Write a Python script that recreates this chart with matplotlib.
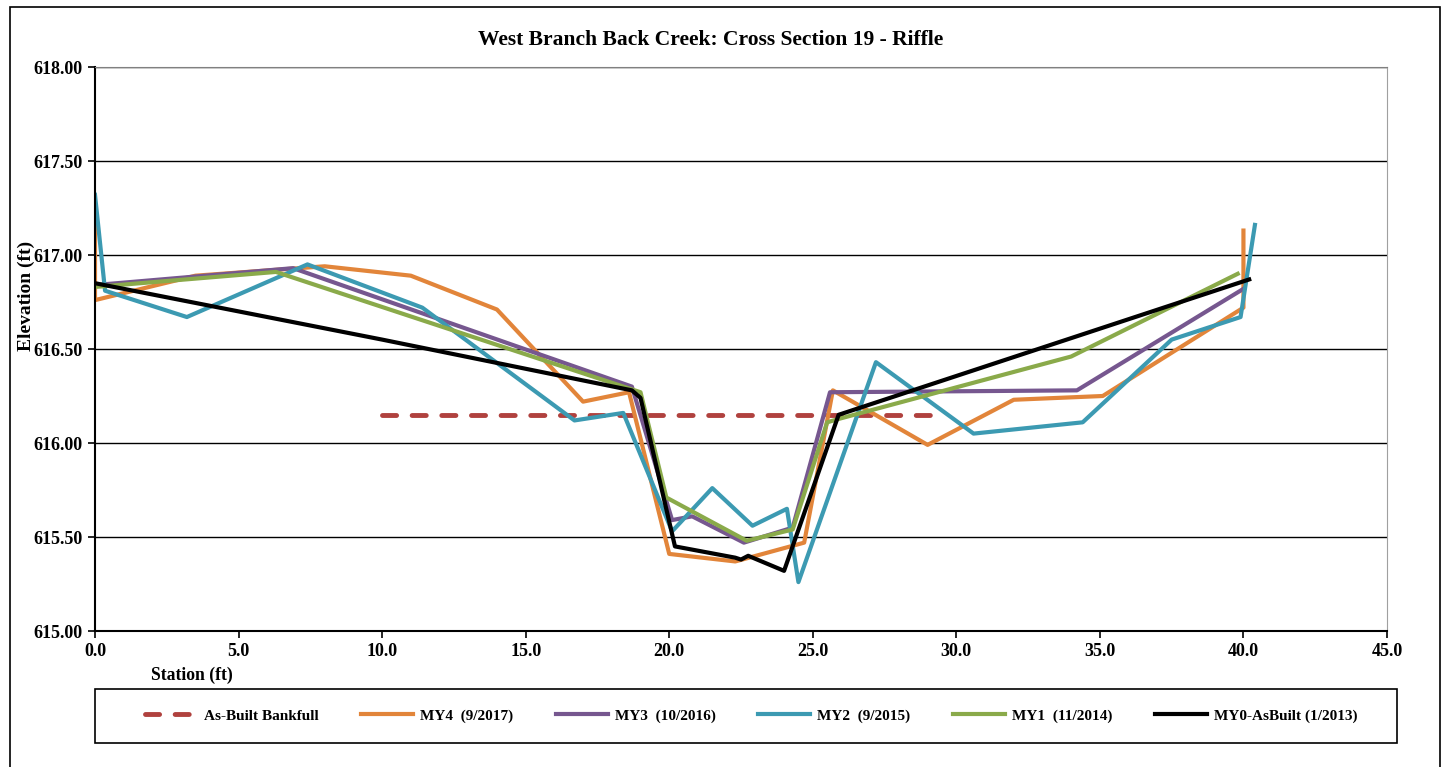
import matplotlib.pyplot as plt
from matplotlib.patches import Rectangle

plt.rcParams['font.family'] = ['Liberation Serif', 'DejaVu Serif']
plt.rcParams['font.weight'] = 'bold'

# Bankfull line
bkf_x = [10.0, 29.6]
bkf_y = [616.15, 616.15]

# MY4 (9/2017)
my4_x = [0.0, 0.0, 3.5, 8.0, 11.0, 14.0, 17.0, 18.6, 20.0, 22.3, 24.7, 25.7, 29.0, 32.0, 35.1, 40.0, 40.0]
my4_y = [617.25, 616.76, 616.89, 616.94, 616.89, 616.71, 616.22, 616.27, 615.41, 615.37, 615.47, 616.28,
         615.99, 616.23, 616.25, 616.72, 617.13]

# MY3 (10/2016)
my3_x = [0.0, 6.9, 18.7, 20.1, 20.8, 22.6, 24.3, 25.6, 34.2, 40.0]
my3_y = [616.84, 616.93, 616.30, 615.59, 615.61, 615.47, 615.55, 616.27, 616.28, 616.82]

# MY2 (9/2015)
my2_x = [0.0, 0.35, 3.2, 7.4, 11.4, 16.7, 18.4, 20.1, 21.5, 22.9, 24.1, 24.5, 27.2, 30.6, 34.4, 37.5, 39.9, 40.4]
my2_y = [617.32, 616.81, 616.67, 616.95, 616.72, 616.12, 616.16, 615.53, 615.76, 615.56, 615.65, 615.26,
         616.43, 616.05, 616.11, 616.55, 616.67, 617.16]

# MY1 (11/2014)
my1_x = [0.0, 6.3, 19.0, 19.9, 22.7, 24.3, 25.5, 25.95, 34.0, 39.8]
my1_y = [616.83, 616.91, 616.27, 615.71, 615.48, 615.54, 616.11, 616.13, 616.46, 616.90]

# MY0 as-built (1/2013)
my0_x = [0.0, 10.0, 18.7, 19.0, 20.2, 22.3, 22.5, 22.75, 24.0, 25.9, 40.2]
my0_y = [616.85, 616.55, 616.28, 616.24, 615.45, 615.39, 615.38, 615.40, 615.32, 616.15, 616.87]

W, H = 1444, 767
fig = plt.figure(figsize=(W / 100, H / 100), dpi=100)
ax = fig.add_axes([95 / W, 1 - 631 / H, (1387 - 95) / W, (631 - 67) / H])

# outer chart frame and legend box
fig.patches.append(Rectangle((10 / W, -0.05), (1440 - 10) / W, 1.05 - 7 / H,
                             transform=fig.transFigure, fill=False, edgecolor='black', lw=1.2))
fig.patches.append(Rectangle((95 / W, 1 - 743 / H), (1397 - 95) / W, (743 - 689) / H,
                             transform=fig.transFigure, fill=False, edgecolor='black', lw=1.2))

ax.plot(bkf_x, bkf_y, color='#b0413e', lw=3.5, dashes=(2.9, 3.2), dash_capstyle='round',
        label='As-Built Bankfull')
ax.plot(my4_x, my4_y, color='#e2853a', lw=3, label='MY4  (9/2017)')
ax.plot(my3_x, my3_y, color='#76578f', lw=3, label='MY3  (10/2016)')
ax.plot(my2_x, my2_y, color='#3c9ab2', lw=3, label='MY2  (9/2015)')
ax.plot(my1_x, my1_y, color='#8aaa4a', lw=3, label='MY1  (11/2014)')
ax.plot(my0_x, my0_y, color='black', lw=3, label='MY0-AsBuilt (1/2013)')

ax.set_xlim(0, 45)
ax.set_ylim(615, 618)
ax.set_xticks([i * 5.0 for i in range(10)])
ax.set_xticklabels([f'{i * 5.0:.1f}' for i in range(10)])
ax.set_yticks([615 + i * 0.5 for i in range(7)])
ax.set_yticklabels([f'{615 + i * 0.5:.2f}' for i in range(7)])
ax.tick_params(direction='out', length=5, width=1.2, labelsize=13, pad=4)
for lbl in ax.get_xticklabels() + ax.get_yticklabels():
    lbl.set_fontweight('bold')

ax.grid(axis='y', color='black', lw=1)
ax.set_axisbelow(True)
ax.spines['top'].set_color('#808080')
ax.spines['right'].set_color('#a0a0a0')
ax.spines['left'].set_linewidth(1.5)
ax.spines['bottom'].set_linewidth(1.5)

fig.text(711 / W, 1 - 40 / H, 'West Branch Back Creek: Cross Section 19 - Riffle',
         ha='center', va='center', fontsize=15.5, fontweight='bold')
fig.text(26 / W, 1 - 296 / H, 'Elevation (ft)', rotation=90, ha='center', va='center',
         fontsize=14, fontweight='bold')
fig.text(192 / W, 1 - 675 / H, 'Station (ft)', ha='center', va='center',
         fontsize=12.7, fontweight='bold')

fig.legend(loc='center', ncol=6, bbox_to_anchor=(751 / W, 1 - 716 / H),
           frameon=False, handlelength=3.4, handletextpad=0.45, columnspacing=2.8,
           borderpad=0, prop={'size': 11, 'weight': 'bold'})

fig.savefig('out.png', dpi=100)
